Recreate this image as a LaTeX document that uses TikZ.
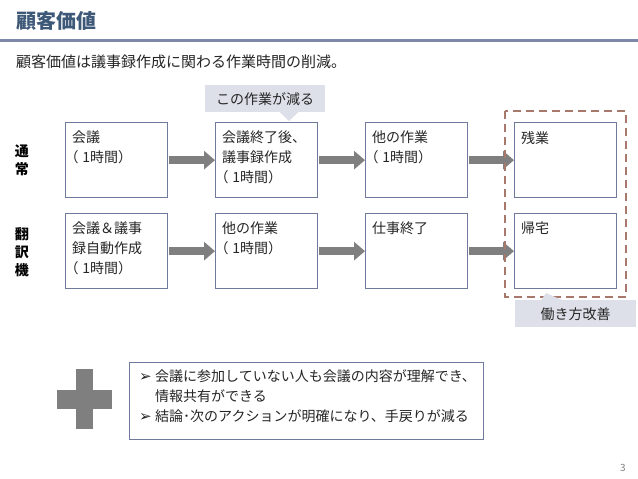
\documentclass[tikz,border=0pt]{standalone}
\usepackage{fontspec}
\setmainfont{Noto Sans CJK JP}
\newfontfamily\symfont{DejaVu Sans}
\usetikzlibrary{arrows.meta,calc}
\definecolor{titleblue}{HTML}{3E5878}
\definecolor{rulecol}{HTML}{7E88A8}
\definecolor{boxline}{HTML}{6F7A9C}
\definecolor{calloutfill}{HTML}{DDE0E8}
\definecolor{arrowgray}{HTML}{7F7F7F}
\definecolor{dashbrown}{HTML}{A8786C}
\definecolor{txt}{HTML}{262626}
\newcommand{\lpar}{\hbox to 0.72em{\kern-0.55em（\hss}}
\newcommand{\bul}{\makebox[16pt][l]{\symfont\fontsize{15}{15}\selectfont ➢}}
\tikzset{
  stepbox/.style={draw=boxline, line width=1.3pt, fill=white, minimum width=102pt, minimum height=75pt, anchor=north west, inner sep=0pt},
  boxlabel/.style={anchor=north west, align=left, inner sep=0pt, xshift=7pt, yshift=-9pt, font=\fontsize{14}{20}\selectfont, text=txt},
  flow/.style={draw=arrowgray, line width=7.5pt, -{Triangle[length=11pt,width=18pt]}, shorten <=0.7pt},
  rowlabel/.style={align=center, font=\bfseries\fontsize{14}{18}\selectfont, text=black},
  callout/.style={fill=calloutfill, inner sep=0pt, font=\fontsize{14}{16}\selectfont, text=txt},
}
\begin{document}
\begin{tikzpicture}[x=1pt,y=-1pt]
\useasboundingbox (0,0) rectangle (638,479);
\fill[white] (0,0) rectangle (638,479);
% title
\node[anchor=west, inner sep=0pt, font=\bfseries\fontsize{20}{22}\selectfont, text=titleblue] (title) at (16,21) {顧客価値};
\draw[rulecol, line width=3pt] (0,40) coordinate (r1) -- (638,40) coordinate (r2);
\node[anchor=west, inner sep=0pt, font=\fontsize{15}{17}\selectfont, text=txt] (sub) at (16,62) {顧客価値は議事録作成に関わる作業時間の削減。};

% row labels
\node[rowlabel] (lab1) at (22,160) {通\\常};
\node[rowlabel] (lab2) at (22,252) {翻\\訳\\機};

% row 1 boxes
\node[stepbox, label={[boxlabel]north west:会議\\\lpar 1時間）}] (a1) at (65,122) {};
\node[stepbox, label={[boxlabel]north west:会議終了後、\\議事録作成\\\lpar 1時間）}] (a2) at (215,122) {};
\node[stepbox, label={[boxlabel]north west:他の作業\\\lpar 1時間）}] (a3) at (365,122) {};
\node[stepbox, label={[boxlabel]north west:残業}] (a4) at (514,122) {};
% row 2 boxes
\node[stepbox, label={[boxlabel]north west:会議＆議事\\録自動作成\\\lpar 1時間）}] (b1) at (65,213) {};
\node[stepbox, label={[boxlabel]north west:他の作業\\\lpar 1時間）}] (b2) at (215,213) {};
\node[stepbox, label={[boxlabel]north west:仕事終了}] (b3) at (365,213) {};
\node[stepbox, label={[boxlabel]north west:帰宅}] (b4) at (514,213) {};

% arrows
\draw[flow] (a1.east) -- (a2.west);
\draw[flow] (a2.east) -- (a3.west);
\draw[flow] (a3.east) -- (a4.west);
\draw[flow] (b1.east) -- (b2.west);
\draw[flow] (b2.east) -- (b3.west);
\draw[flow] (b3.east) -- (b4.west);

% callout top
\node[callout, minimum width=120pt, minimum height=27pt, anchor=north west] (c1) at (205,85) {この作業が減る};
\fill[calloutfill] (279,111.5) -- (289,121) -- (299,111.5) -- cycle;

% dashed group
\draw[dashbrown, line width=2.5pt, dash pattern=on 8pt off 5pt] (505,111) rectangle (626,297);

% callout bottom
\node[callout, minimum width=121pt, minimum height=27pt, anchor=north west] (c2) at (515,300) {働き方改善};
\fill[calloutfill] (541,300.5) -- (546,293) -- (563,300.5) -- cycle;

% plus sign
\fill[arrowgray] (76,369) rectangle (93,429);
\fill[arrowgray] (57,390) rectangle (112,409);

% bullet box
\node[draw=boxline, line width=1.3pt, fill=white, minimum width=354pt, minimum height=77pt, anchor=north west] (bb) at (129,362) {};
\node[anchor=north west, inner sep=0pt, align=left, font=\fontsize{14}{20}\selectfont, text=txt] (btxt) at (139,369)
  {\bul 会議に参加していない人も会議の内容が理解でき、\\
   \hspace*{16pt}情報共有ができる\\
   \bul 結論･次のアクションが明確になり、手戻りが減る};

% page number
\node[inner sep=0pt, font=\fontsize{10}{12}\selectfont, text=gray] (pg) at (623,468) {3};
\end{tikzpicture}
\end{document}
